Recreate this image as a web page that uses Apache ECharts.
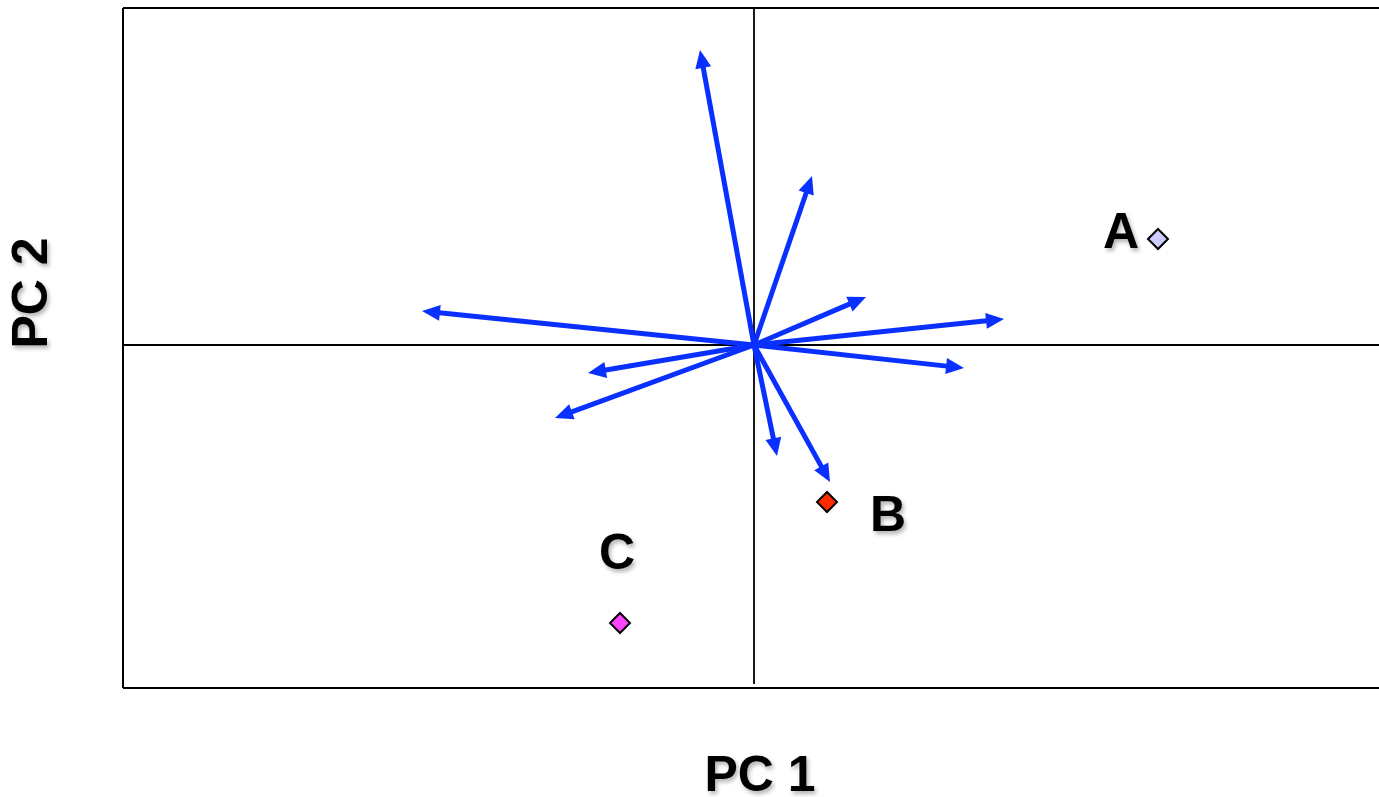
<!DOCTYPE html>
<html>
<head>
<meta charset="utf-8">
<script src="https://cdn.jsdelivr.net/npm/echarts@6/dist/echarts.min.js"></script>
<style>
  html, body { margin: 0; padding: 0; background: #ffffff; }
  #chart { width: 1379px; height: 797px; }
</style>
</head>
<body>
<div id="chart"></div>
<script>
// Biplot: variable loadings (arrows) and sample scores (diamonds) on PC 1 / PC 2
const loadingX = [-0.54, 0.58, 1.12, 2.50, 2.10, 0.76, 0.23, -1.99, -1.66, -3.32];
const loadingY = [2.95, 1.69, 0.48, 0.26, -0.23, -1.37, -1.11, -0.73, -0.28, 0.34];

const sampleNames = ['A', 'B', 'C'];
const sampleX = [4.04, 0.73, -1.34];
const sampleY = [1.06, -1.57, -2.78];
const sampleColors = ['#ccccff', '#ff2a00', '#ff44ff'];

const axisTitles = ['PC 1', 'PC 2'];

const X_MIN = -6.31, X_MAX = 6.25;
const Y_MIN = -3.43, Y_MAX = 3.37;

const ARROW_COLOR = '#0a30ff';
const HEAD_LEN = 18, HEAD_HALF_W = 8;

// label offsets from each sample marker
const labelOffset = { A: [-37, -5], B: [61, 15], C: [-3, -68] };

const sampleData = sampleNames.map((n, i) => ({
  name: n,
  value: [sampleX[i], sampleY[i]],
  itemStyle: { color: sampleColors[i] },
  label: { position: 'inside', offset: labelOffset[n] }
}));

const textFont = {
  fontFamily: 'Liberation Sans, Arial, sans-serif',
  fontWeight: 'bold',
  fontSize: 50
};
const textShadow = {
  textShadowColor: 'rgba(0,0,0,0.3)',
  textShadowBlur: 4,
  textShadowOffsetX: 2,
  textShadowOffsetY: 3
};

// loading arrow: shaft from the origin, triangular head with its tip on the loading point
function renderArrow(params, api) {
  const p0 = api.coord([0, 0]);
  const p1 = api.coord([api.value(0), api.value(1)]);
  const dx = p1[0] - p0[0], dy = p1[1] - p0[1];
  const len = Math.sqrt(dx * dx + dy * dy);
  const ux = dx / len, uy = dy / len;
  const bx = p1[0] - ux * HEAD_LEN, by = p1[1] - uy * HEAD_LEN;
  return {
    type: 'group',
    children: [
      {
        type: 'line',
        shape: { x1: p0[0], y1: p0[1], x2: p1[0] - ux * (HEAD_LEN - 3), y2: p1[1] - uy * (HEAD_LEN - 3) },
        style: { stroke: ARROW_COLOR, lineWidth: 5 }
      },
      {
        type: 'polygon',
        shape: {
          points: [
            [p1[0], p1[1]],
            [bx - uy * HEAD_HALF_W, by + ux * HEAD_HALF_W],
            [bx + uy * HEAD_HALF_W, by - ux * HEAD_HALF_W]
          ]
        },
        style: { fill: ARROW_COLOR }
      }
    ]
  };
}

const chart = echarts.init(document.getElementById('chart'));
chart.setOption({
  animation: false,
  backgroundColor: '#ffffff',
  grid: { left: 123, top: 8, right: 0, height: 680, show: false },
  xAxis: {
    type: 'value', min: X_MIN, max: X_MAX,
    axisLine: { show: false }, axisTick: { show: false },
    axisLabel: { show: false }, splitLine: { show: false }
  },
  yAxis: {
    type: 'value', min: Y_MIN, max: Y_MAX,
    axisLine: { show: false }, axisTick: { show: false },
    axisLabel: { show: false }, splitLine: { show: false }
  },
  graphic: [
    {
      type: 'text', x: 760, y: 777,
      style: Object.assign({ text: axisTitles[0], fill: '#000', align: 'center', verticalAlign: 'middle' }, textFont, textShadow)
    },
    {
      type: 'text', x: 33, y: 293, rotation: Math.PI / 2,
      style: Object.assign({ text: axisTitles[1], fill: '#000', align: 'center', verticalAlign: 'middle' }, textFont, textShadow)
    }
  ],
  series: [
    {
      // plot frame (top, left, bottom) and zero lines through the origin
      type: 'lines',
      coordinateSystem: 'cartesian2d',
      silent: true,
      symbol: 'none',
      data: [
        { coords: [[X_MIN, Y_MAX], [X_MAX, Y_MAX]] },
        { coords: [[X_MIN, Y_MAX], [X_MIN, Y_MIN]] },
        { coords: [[X_MIN, Y_MIN], [X_MAX, Y_MIN]] },
        { coords: [[0, Y_MAX], [0, -3.39]], lineStyle: { width: 1.8 } },
        { coords: [[X_MIN, 0], [X_MAX, 0]], lineStyle: { width: 1.8 } }
      ],
      lineStyle: { color: '#000', width: 2, opacity: 1 },
      z: 1
    },
    {
      type: 'custom',
      coordinateSystem: 'cartesian2d',
      silent: true,
      renderItem: renderArrow,
      data: loadingX.map((x, i) => [x, loadingY[i]]),
      z: 2
    },
    {
      type: 'scatter',
      symbol: 'diamond',
      symbolSize: [20, 20],
      itemStyle: { borderColor: '#000', borderWidth: 2, opacity: 1 },
      label: Object.assign({
        show: true,
        formatter: '{b}',
        color: '#000'
      }, textFont, textShadow),
      data: sampleData,
      z: 3
    }
  ]
});
</script>
</body>
</html>
